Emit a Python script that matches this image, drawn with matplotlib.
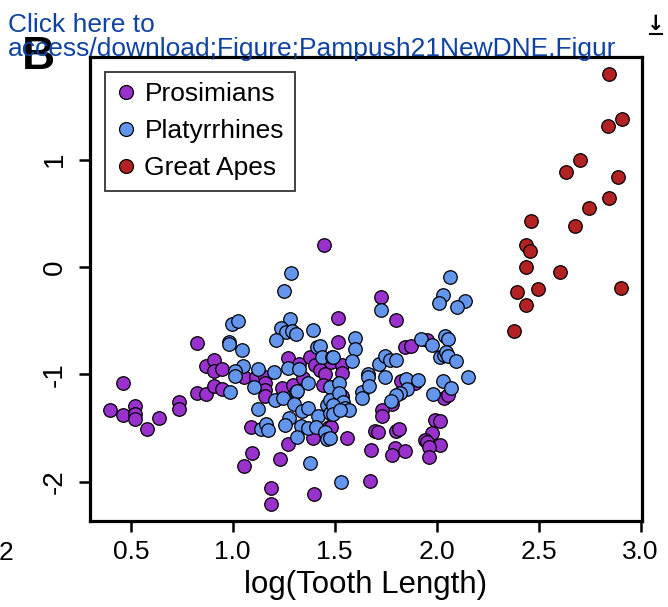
import numpy as np
import matplotlib
matplotlib.use("Agg")
import matplotlib.pyplot as plt
from matplotlib.lines import Line2D

plt.rcParams['font.family'] = ['Liberation Sans', 'DejaVu Sans']

# Prosimians
pro_x = [0.400, 0.463, 0.463, 0.522, 0.522, 0.522, 0.581, 0.640, 0.738, 0.738,
         0.826, 0.826, 0.870, 0.870, 0.909, 0.909, 0.949, 0.909, 0.949, 1.056,
         1.115, 1.159, 1.159, 1.159, 1.159, 1.091, 1.096, 1.056, 1.233, 1.189,
         1.189, 1.272, 1.243, 1.272, 1.449, 1.326, 1.380, 1.404, 1.429, 1.453,
         1.483, 1.297, 1.346, 1.444, 1.473, 1.395, 1.400, 1.517, 1.517, 1.537,
         1.537, 1.493, 1.537, 1.483, 1.561, 1.674, 1.728, 1.801, 1.846, 1.875,
         1.953, 1.826, 1.895, 2.037, 2.056, 1.782, 1.733, 1.733, 1.699, 1.713,
         1.801, 1.816, 1.993, 2.017, 1.978, 1.944, 1.953, 2.017, 1.963, 1.963,
         1.679, 1.797, 1.846, 1.782, 1.311]
pro_y = [-1.331, -1.080, -1.378, -1.294, -1.369, -1.415, -1.508, -1.406, -1.257, -1.322,
         -0.708, -1.173, -1.182, -0.922, -0.866, -0.968, -0.950, -1.108, -1.136, -1.024,
         -1.024, -1.024, -1.080, -1.145, -1.201, -1.490, -1.732, -1.853, -1.788, -2.058,
         -2.207, -0.847, -1.127, -1.648, 0.205, -0.903, -0.838, -0.912, -0.959, -0.996,
         -0.885, -1.099, -1.034, -1.099, -1.490, -1.592, -2.114, -0.475, -0.698, -0.912,
         -0.987, -1.117, -1.201, -1.490, -1.592, -1.993, -0.279, -0.493, -0.745, -0.736,
         -0.680, -1.061, -1.080, -1.220, -1.192, -1.276, -1.331, -1.387, -1.527, -1.536,
         -1.527, -1.508, -1.425, -1.434, -1.546, -1.611, -1.629, -1.657, -1.676, -1.769,
         -1.704, -1.685, -1.713, -1.750, -1.164]

# Platyrrhines
pla_x = [0.988, 0.998, 1.027, 0.983, 0.983, 1.047, 1.051, 1.012, 1.012, 1.125,
         1.203, 1.105, 1.125, 1.140, 1.164, 1.174, 1.252, 1.287, 1.282, 1.238,
         1.262, 1.292, 1.311, 1.213, 1.395, 1.272, 1.326, 1.414, 1.429, 1.439,
         1.488, 1.208, 1.248, 1.316, 1.370, 1.478, 1.301, 1.341, 1.370, 1.419,
         1.277, 1.257, 1.336, 1.370, 1.409, 1.453, 1.463, 1.463, 1.478, 1.478,
         1.316, 1.380, 1.532, 1.600, 1.600, 1.493, 1.586, 1.522, 1.522, 1.542,
         1.493, 1.551, 1.571, 1.493, 1.527, 1.478, 1.664, 1.664, 1.635, 1.635,
         1.669, 1.718, 1.748, 1.772, 1.801, 1.748, 1.850, 1.909, 1.855, 1.821,
         1.801, 1.777, 1.728, 1.924, 1.978, 2.042, 2.056, 2.017, 2.037, 2.047,
         2.056, 2.096, 2.032, 2.071, 1.983, 2.154, 2.066, 2.032, 2.012, 2.140,
         2.100]
pla_y = [-1.164, -0.531, -0.503, -0.698, -0.717, -0.773, -0.922, -0.968, -1.015, -0.950,
         -0.978, -1.117, -1.322, -1.508, -1.462, -1.518, -0.223, -0.056, -0.484, -0.568,
         -0.605, -0.596, -0.624, -0.680, -0.587, -0.940, -0.950, -0.745, -0.736, -0.838,
         -0.838, -1.238, -1.220, -1.155, -1.080, -1.117, -1.276, -1.341, -1.313, -1.387,
         -1.406, -1.471, -1.480, -1.499, -1.490, -1.536, -1.601, -1.285, -1.359, -1.238,
         -1.583, -1.825, -2.002, -0.661, -0.763, -0.838, -0.875, -1.080, -1.173, -1.257,
         -1.285, -1.313, -1.331, -1.369, -1.331, -1.592, -0.996, -1.024, -1.164, -1.220,
         -1.108, -0.903, -0.829, -0.866, -0.866, -1.024, -1.043, -1.052, -1.136, -1.173,
         -1.192, -1.248, -0.400, -0.670, -0.726, -0.642, -0.670, -0.838, -0.819, -0.791,
         -0.829, -0.875, -1.061, -1.127, -1.182, -1.024, -0.093, -0.261, -0.335, -0.317,
         -0.372]

# Great Apes
ape_x = [2.847, 2.909, 2.841, 2.705, 2.633, 2.891, 2.847, 2.746, 2.680, 2.463,
         2.437, 2.457, 2.437, 2.604, 2.393, 2.496, 2.437, 2.903, 2.377]
ape_y = [1.797, 1.378, 1.313, 0.999, 0.885, 0.835, 0.645, 0.546, 0.382, 0.431,
         0.205, 0.146, 0.000, -0.044, -0.236, -0.202, -0.351, -0.193, -0.596]

groups = ["Prosimians", "Platyrrhines", "Great Apes"]
colors = ["darkorchid", "cornflowerblue", "firebrick"]

W, H = 668, 607
fig = plt.figure(figsize=(W / 100, H / 100), dpi=100)
ax = fig.add_axes([90 / W, 1 - 521 / H, 552 / W, 464 / H])

ms = 95
ax.scatter(pro_x, pro_y, s=ms, c=colors[0], edgecolors="black", linewidths=0.9, zorder=3)
ax.scatter(pla_x, pla_y, s=ms, c=colors[1], edgecolors="black", linewidths=0.9, zorder=3)
ax.scatter(ape_x, ape_y, s=ms, c=colors[2], edgecolors="black", linewidths=0.9, zorder=3)

ax.set_xlim(0.30, 3.007)
ax.set_ylim(-2.365, 1.955)
ax.set_xticks([0.5, 1.0, 1.5, 2.0, 2.5, 3.0])
ax.set_xticklabels(["0.5", "1.0", "1.5", "2.0", "2.5", "3.0"], fontsize=19)
ax.set_yticks([-2, -1, 0, 1])
ax.set_yticklabels(["-2", "-1", "0", "1"], fontsize=20, rotation=90, va="center")
ax.tick_params(axis="both", length=8, width=1.8, direction="out")
ax.tick_params(axis="x", pad=6)
ax.tick_params(axis="y", pad=8)
for sp in ax.spines.values():
    sp.set_linewidth(2.3)
ax.set_xlabel("log(Tooth Length)", fontsize=22.5, labelpad=4)

handles = [Line2D([], [], marker="o", linestyle="none", markersize=10,
                  markerfacecolor=c, markeredgecolor="black", markeredgewidth=0.9)
           for c in colors]
leg = ax.legend(handles, groups, loc="upper left", bbox_to_anchor=(0.027, 0.968),
                borderaxespad=0, fontsize=19, frameon=True, fancybox=False,
                handlelength=0.8, handletextpad=0.3, labelspacing=0.49,
                borderpad=0.4)
leg.get_frame().set_edgecolor("black")
leg.get_frame().set_linewidth(1.3)
leg.set_zorder(5)

# panel letter and the overlaid link text
fig.text(22 / W, 1 - 69 / H, "B", fontsize=33, fontweight="bold", color="black",
         va="baseline", ha="left")
fig.text(8 / W, 1 - 32 / H, "Click here to", fontsize=19, color="#0f43a3",
         va="baseline", ha="left")
fig.text(8 / W, 1 - 56 / H, "access/download;Figure;Pampush21NewDNE.Figur",
         fontsize=19, color="#0f43a3", va="baseline", ha="left")
fig.text(13 / W, 1 - 560 / H, "2", fontsize=19, color="black", va="baseline", ha="right")
fig.text(656 / W, 1 - 30 / H, "\u2193", fontsize=15, fontweight="bold",
         color="black", va="baseline", ha="center", family="DejaVu Sans")
fig.add_artist(Line2D([650 / W, 662 / W], [1 - 34 / H, 1 - 34 / H], color="black", lw=1.5))

fig.savefig("out.png", dpi=100)
